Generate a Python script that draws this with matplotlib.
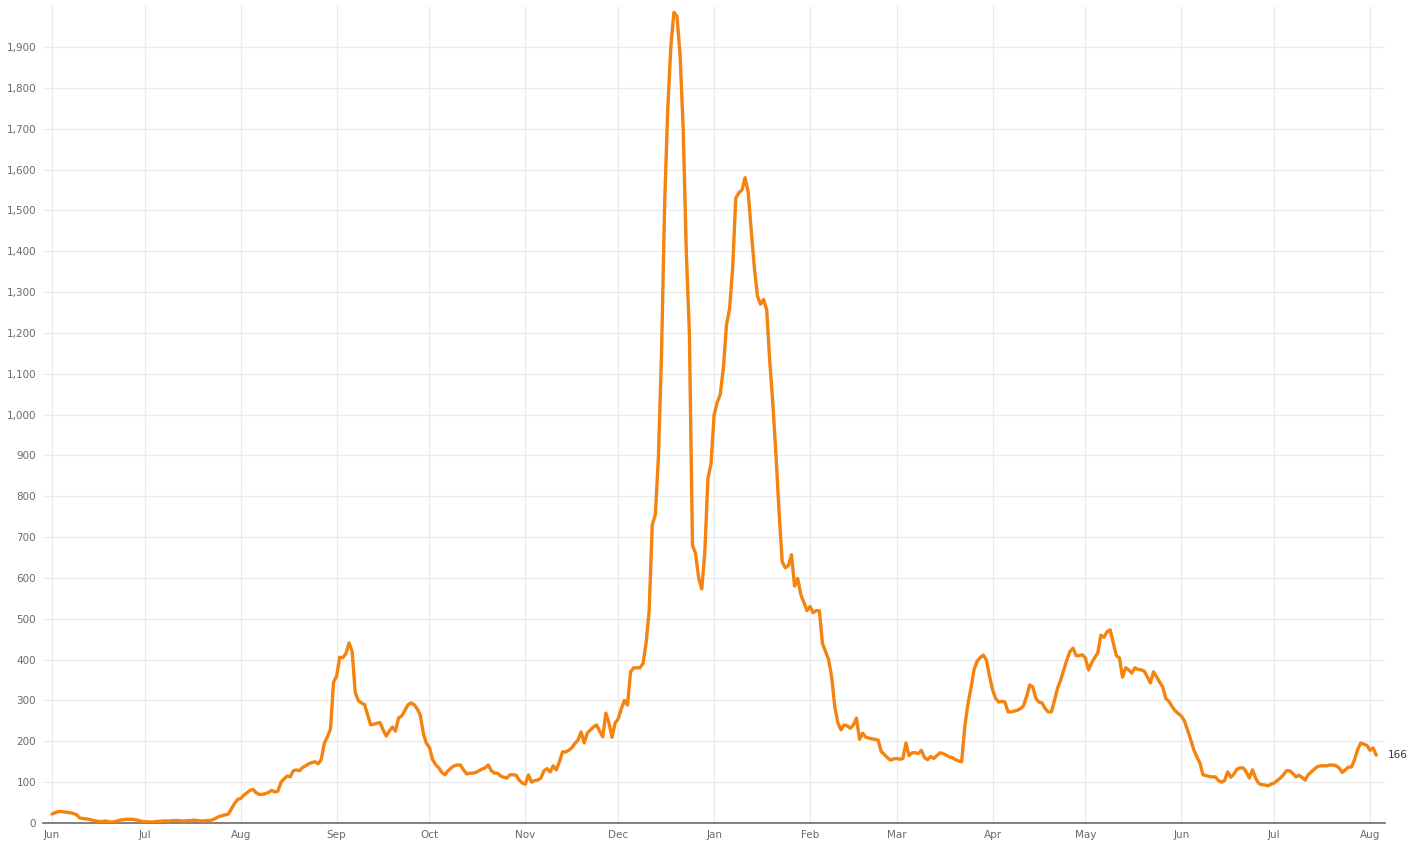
import numpy as np
import pandas as pd
import matplotlib
matplotlib.use("Agg")
import matplotlib.pyplot as plt
import matplotlib.dates as mdates
from matplotlib.ticker import FuncFormatter

# daily values, one list per month
jun_21 = [22, 25, 28, 28, 27, 26, 25, 23, 20, 12, 11, 10, 9, 7, 5, 4, 3, 5, 4, 2,
          3, 5, 7, 8, 9, 9, 9, 8, 6, 4]
jul_21 = [3, 3, 2, 3, 4, 4, 5, 5, 5, 6, 6, 6, 5, 5, 6, 6, 7, 6, 5, 5,
          6, 6, 8, 12, 16, 18, 20, 22, 35, 48, 58]
aug_21 = [60, 68, 74, 80, 82, 74, 70, 70, 72, 75, 80, 76, 78, 100, 108, 115, 113, 128, 130, 128,
          136, 140, 145, 148, 150, 145, 155, 195, 211, 230, 345]
sep_21 = [360, 406, 405, 415, 441, 420, 320, 300, 294, 290, 265, 240, 242, 244, 246, 228, 213, 225, 235, 225,
          257, 262, 275, 289, 294, 290, 280, 265, 220, 195]
oct_21 = [185, 155, 143, 135, 124, 118, 128, 135, 140, 142, 142, 130, 120, 122, 122, 124, 128, 132, 135, 142,
          128, 122, 122, 115, 112, 110, 118, 118, 117, 105, 98]
nov_21 = [95, 118, 100, 104, 105, 110, 128, 133, 125, 140, 130, 150, 174, 174, 178, 184, 195, 203, 223, 196,
          220, 228, 235, 240, 225, 211, 269, 245, 210, 245]
dec_21 = [255, 280, 300, 289, 370, 380, 380, 380, 390, 440, 520, 730, 755, 896, 1150, 1514, 1746, 1900, 1985, 1975,
          1880, 1700, 1400, 1200, 680, 660, 600, 573, 664, 844, 880]
jan_22 = [1000, 1030, 1050, 1115, 1220, 1260, 1360, 1530, 1543, 1550, 1580, 1545, 1450, 1360, 1290, 1270, 1282, 1256, 1128, 1024,
          900, 760, 640, 625, 630, 657, 580, 599, 560, 540, 520]
feb_22 = [530, 515, 520, 520, 440, 420, 400, 357, 284, 245, 228, 240, 238, 232, 240, 257, 205, 220, 210, 208,
          206, 205, 203, 175, 168, 160, 154, 157]
mar_22 = [158, 156, 158, 196, 165, 172, 172, 170, 178, 160, 155, 163, 158, 165, 172, 170, 166, 162, 160, 155,
          152, 150, 235, 290, 330, 375, 396, 405, 411, 399, 360]
apr_22 = [326, 305, 296, 298, 296, 272, 272, 274, 276, 280, 287, 310, 338, 333, 305, 296, 294, 280, 272, 272,
          300, 330, 350, 375, 399, 420, 428, 410, 410, 412]
may_22 = [404, 375, 392, 405, 416, 460, 455, 468, 473, 441, 410, 404, 357, 380, 375, 367, 380, 376, 375, 372,
          358, 343, 370, 358, 345, 333, 305, 298, 285, 275, 268]
jun_22 = [262, 250, 228, 205, 180, 162, 147, 118, 116, 114, 113, 113, 104, 100, 104, 125, 112, 120, 132, 135,
          135, 125, 110, 130, 110, 97, 94, 93, 91, 95]
jul_22 = [98, 104, 110, 118, 128, 128, 122, 113, 117, 112, 105, 118, 125, 132, 138, 140, 140, 140, 142, 142,
          140, 135, 124, 130, 137, 137, 155, 180, 196, 193, 190]
aug_22 = [178, 184, 166]

months = [jun_21, jul_21, aug_21, sep_21, oct_21, nov_21, dec_21, jan_22,
          feb_22, mar_22, apr_22, may_22, jun_22, jul_22, aug_22]
values = np.concatenate([np.array(m, dtype=float) for m in months])
dates = pd.date_range("2021-06-01", periods=len(values), freq="D")

line_color = "#f5830f"
grid_color = "#ebebeb"

fig = plt.figure(figsize=(14.16, 8.44), dpi=100)
ax = fig.add_axes([43 / 1416, 21 / 844, (1385 - 43) / 1416, 816.8 / 844])

ax.plot(dates, values, color=line_color, lw=2.4, solid_joinstyle="round",
        solid_capstyle="round", zorder=3)

ax.set_xlim(pd.Timestamp("2021-05-29 02:00"), pd.Timestamp("2022-08-05 20:00"))
ax.set_ylim(0, 2000)

ax.set_yticks(np.arange(0, 2000, 100))
ax.yaxis.set_major_formatter(FuncFormatter(lambda v, p: f"{int(v):,}"))
ax.xaxis.set_major_locator(mdates.MonthLocator())
ax.xaxis.set_major_formatter(mdates.DateFormatter("%b"))

ax.grid(True, color=grid_color, lw=0.9, zorder=0)
for side in ["top", "right", "left"]:
    ax.spines[side].set_visible(False)
ax.spines["bottom"].set_color("#6b6b6b")
ax.spines["bottom"].set_linewidth(1.2)

ax.tick_params(axis="y", length=0, pad=5, labelsize=7.5, labelcolor="#6a6a6a")
ax.tick_params(axis="x", length=0, pad=5, labelsize=7.5, labelcolor="#6a6a6a")

# label for last value
ax.annotate(f"{int(values[-1])}", xy=(dates[-1], values[-1]), xytext=(8, 0),
            textcoords="offset points", va="center", ha="left",
            fontsize=7.5, color="#333333")

fig.savefig("out.png", dpi=100, facecolor="white")
